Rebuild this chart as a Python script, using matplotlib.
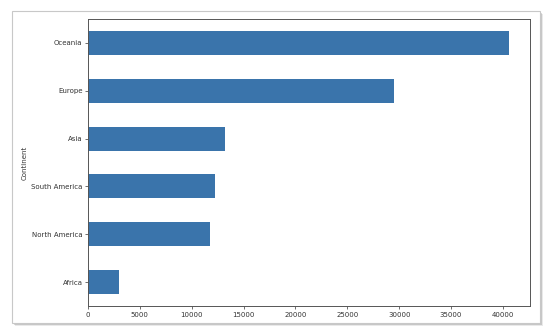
import matplotlib
matplotlib.use("Agg")
import matplotlib.pyplot as plt
from matplotlib.patches import Rectangle

# values (bottom to top)
continents = ["Africa", "North America", "South America", "Asia", "Europe", "Oceania"]
values = [3000, 11790, 12270, 13240, 29470, 40580]
xticks = [0, 5000, 10000, 15000, 20000, 25000, 30000, 35000, 40000]

fig = plt.figure(figsize=(5.54, 3.36), dpi=100)
fig.patch.set_facecolor("white")

# screenshot panel with a drop shadow
fx0, fy0 = 12 / 554, 1 - 323 / 336
fw, fh = (540 - 12) / 554, (323 - 11) / 336
for i, a in enumerate([0.12, 0.22, 0.40]):
    off = (3 - i) / 554
    fig.patches.append(Rectangle((fx0 + off, fy0 - off * 554 / 336), fw, fh,
                                 transform=fig.transFigure, facecolor="#505050",
                                 alpha=a, edgecolor="none", zorder=0))
fig.patches.append(Rectangle((fx0, fy0), fw, fh, transform=fig.transFigure,
                             facecolor="white", edgecolor="#c8c8c8", linewidth=0.8, zorder=1))

ax = fig.add_axes([88 / 554, 1 - 306 / 336, (530 - 88) / 554, (306 - 19) / 336])
ax.set_zorder(2)
pos = list(range(len(continents)))
ax.barh(pos, values, height=0.5, color="#3a74ab")
ax.set_ylim(-0.5, len(continents) - 0.5)
ax.set_xlim(0, max(values) * 1.05)
ax.set_yticks(pos)
ax.set_yticklabels(continents)
ax.set_xticks(xticks)
ax.set_xticklabels([str(t) for t in xticks])
ax.set_ylabel("Continent", fontsize=5, color="#333333")
ax.yaxis.set_label_coords(-0.136, 0.5)
ax.tick_params(labelsize=5, length=2, width=0.5, pad=2, colors="#333333")
for s in ax.spines.values():
    s.set_linewidth(0.7)
    s.set_color("#555555")

fig.savefig("out.png", dpi=100)
